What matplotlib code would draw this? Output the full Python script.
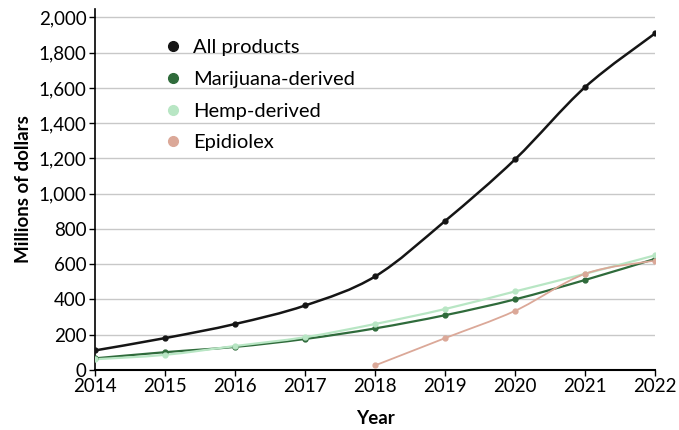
import matplotlib
matplotlib.use('Agg')
import matplotlib.pyplot as plt
import numpy as np
from matplotlib.path import Path
from matplotlib.patches import PathPatch
from matplotlib.lines import Line2D
from matplotlib.ticker import FuncFormatter

plt.rcParams['font.family'] = ['Lato', 'DejaVu Sans']

years = [2014, 2015, 2016, 2017, 2018, 2019, 2020, 2021, 2022]
all_products = [110, 180, 260, 365, 530, 845, 1195, 1605, 1910]
marijuana = [65, 100, 130, 175, 235, 310, 400, 510, 630]
hemp = [60, 85, 135, 185, 260, 345, 445, 545, 650]
epi_years = [2018, 2019, 2020, 2021, 2022]
epidiolex = [25, 180, 335, 545, 620]

series = [
	('All products', years, all_products, '#151515', 1.8),
	('Marijuana-derived', years, marijuana, '#2f6b3b', 1.6),
	('Hemp-derived', years, hemp, '#b8e6c4', 1.6),
	('Epidiolex', epi_years, epidiolex, '#dba898', 1.3),
]


def smooth_path(x, y):
	# catmull-rom style bezier through the points
	x = np.asarray(x, float)
	y = np.asarray(y, float)
	verts = [(x[0], y[0])]
	codes = [Path.MOVETO]
	n = len(x)
	for i in range(n - 1):
		x0, y0 = (x[i - 1], y[i - 1]) if i > 0 else (x[i], y[i])
		x3, y3 = (x[i + 2], y[i + 2]) if i + 2 < n else (x[i + 1], y[i + 1])
		c1 = (x[i] + (x[i + 1] - x0) / 6, y[i] + (y[i + 1] - y0) / 6)
		c2 = (x[i + 1] - (x3 - x[i]) / 6, y[i + 1] - (y3 - y[i]) / 6)
		verts += [c1, c2, (x[i + 1], y[i + 1])]
		codes += [Path.CURVE4] * 3
	return Path(verts, codes)


fig = plt.figure(figsize=(6.79, 4.3), dpi=100)
ax = fig.add_axes([0.14, 0.14, 0.825, 0.84])

for label, xs, ys, color, lw in series:
	ax.add_patch(PathPatch(smooth_path(xs, ys), facecolor='none', edgecolor=color, lw=lw, zorder=3))
	ax.plot(xs, ys, 'o', color=color, ms=3.5, zorder=4)

ax.set_xlim(2014, 2022)
ax.set_ylim(0, 2050)
ax.set_xticks(years)
ax.set_yticks(range(0, 2001, 200))
ax.yaxis.set_major_formatter(FuncFormatter(lambda v, p: f'{int(v):,}'))
ax.tick_params(axis='both', labelsize=13.5, length=4, width=1, color='black', pad=2)
ax.grid(axis='y', color='#c8c8c8', lw=1)
ax.set_axisbelow(True)
for s in ['top', 'right']:
	ax.spines[s].set_visible(False)
ax.spines['left'].set_linewidth(1.2)
ax.spines['bottom'].set_linewidth(1.5)
ax.set_xlabel('Year', fontsize=13.5, fontweight='bold', labelpad=11)
ax.set_ylabel('Millions of dollars', fontsize=13.5, fontweight='bold', labelpad=5)

handles = [Line2D([], [], marker='o', ls='none', color=c, ms=7) for _, _, _, c, _ in series]
ax.legend(handles, [s[0] for s in series], loc='upper left', bbox_to_anchor=(0.07, 0.965),
	frameon=False, fontsize=14.5, handletextpad=0.0, labelspacing=0.72)

fig.savefig('out.png', dpi=100)
